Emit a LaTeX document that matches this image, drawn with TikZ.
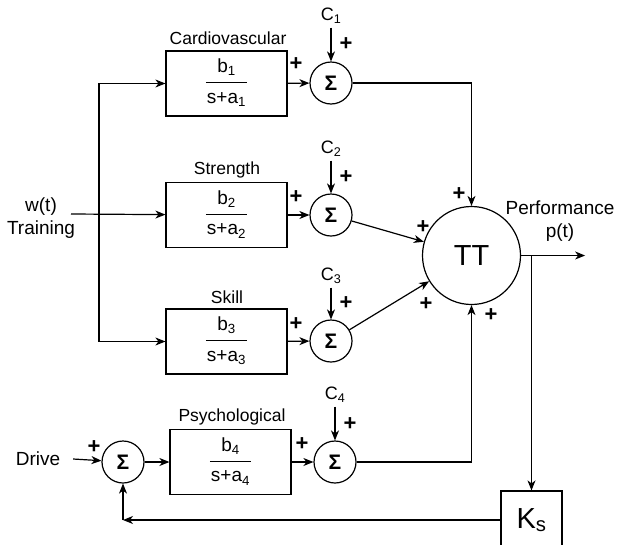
\documentclass[tikz,border=0pt]{standalone}
\usepackage{fontspec}
\setmainfont{Liberation Sans}
\usepackage{tikz}
\usetikzlibrary{arrows.meta}
\setlength{\arrayrulewidth}{1.2pt}
\newcommand{\tfn}[1]{\begin{tabular}{@{\hspace{1pt}}c@{\hspace{1pt}}}b\textsubscript{#1}\\[3pt]\hline\rule{0pt}{20pt}s+a\textsubscript{#1}\end{tabular}}

\begin{document}
\begin{tikzpicture}[x=1pt, y=-1pt, line width=1.2pt, >={Stealth[length=10pt,width=8pt,inset=3pt]},
  font=\fontsize{18}{21.6}\selectfont,
  box/.style={draw, minimum width=121pt, minimum height=65pt, inner sep=0pt, font=\fontsize{19}{22}\selectfont},
  sum/.style={draw, circle, minimum size=42pt, inner sep=0pt, font=\fontsize{21}{21}\selectfont\bfseries},
  plus/.style={inner sep=0pt, font=\fontsize{22}{22}\selectfont\bfseries},
  title/.style={font=\fontsize{17.5}{20}\selectfont},
  side/.style={font=\fontsize{19}{23}\selectfont, align=center}]
\useasboundingbox (0,0) rectangle (618,544);
% inputs
\node[side] (train) at (41,218) {w(t)\\Training};
\node[side] (drive) at (38,459) {Drive};
\coordinate (win) at (71,214);
\coordinate (split) at (99,214);
% first order blocks
\node[box] (cardio)   at (226.5,83.5) {\tfn{1}};
\node[box] (strength) at (226.5,215)  {\tfn{2}};
\node[box] (skill)    at (226.5,341.5){\tfn{3}};
\node[box] (psych)    at (230.5,462)  {\tfn{4}};
\node[title] (tcardio)   at (228,38)  {Cardiovascular};
\node[title] (tstrength) at (227,170) {Strength};
\node[title] (tskill)    at (227,297) {Skill};
\node[title] (tpsych)    at (232,417) {Psychological};
% summing points
\node[sum] (s1) at (331,83)  {Σ};
\node[sum] (s2) at (331,215) {Σ};
\node[sum] (s3) at (331,341) {Σ};
\node[sum] (s4) at (335,462) {Σ};
\node[sum] (sd) at (123,462) {Σ};
\node (c1) at (331,16)  {C\textsubscript{1}};
\node (c2) at (331,149) {C\textsubscript{2}};
\node (c3) at (331,276) {C\textsubscript{3}};
\node (c4) at (335,395) {C\textsubscript{4}};
% total and gain
\node[draw, circle, minimum size=98pt, inner sep=0pt, font=\fontsize{29}{29}\selectfont] (tt) at (471.5,255.5) {TT};
\node[draw, minimum width=61pt, minimum height=58pt, inner sep=0pt, font=\fontsize{29}{29}\selectfont] (ks) at (531.5,520) {K\textsubscript{s}};
\node[side] (perf) at (560,221) {Performance\\p(t)};
\coordinate (br) at (tt.east -| ks.north);
\coordinate (pout) at ([xshift=64pt]tt.east);
\coordinate (fb) at (sd |- ks);
% signs
\node[plus] (pa1) at (296,64)  {+};
\node[plus] (pa2) at (296,197) {+};
\node[plus] (pa3) at (296,324) {+};
\node[plus] (pa4) at (302,444) {+};
\node[plus] (pc1) at (346,44)  {+};
\node[plus] (pc2) at (346,177) {+};
\node[plus] (pc3) at (346,303) {+};
\node[plus] (pc4) at (350,424) {+};
\node[plus] (pt1) at (459,194) {+};
\node[plus] (pt2) at (423,227) {+};
\node[plus] (pt3) at (426,304) {+};
\node[plus] (pt4) at (491,315) {+};
\node[plus] (pd)  at (94,447)  {+};
% connectors
\draw[->] (win) -- (strength);
\draw[->] (split) |- (cardio);
\draw[->] (split) |- (skill);
\draw[->] (cardio) -- (s1); \draw[->] (strength) -- (s2);
\draw[->] (skill) -- (s3); \draw[->] (psych) -- (s4);
\draw[->] (c1) -- (s1); \draw[->] (c2) -- (s2);
\draw[->] (c3) -- (s3); \draw[->] (c4) -- (s4);
\draw[->] (s1) -| (tt); \draw[->] (s2) -- (tt);
\draw[->] (s3) -- (tt); \draw[->] (s4) -| (tt);
\draw[->] ([xshift=9pt]drive.east) -- (sd);
\draw[->] (sd) -- (psych);
\draw[->] (tt) -- (pout);
\draw[->] (br) -- (ks);
\draw[->] (ks) -- (fb);
\draw[->] (fb) -- (sd);
\end{tikzpicture}
\end{document}
